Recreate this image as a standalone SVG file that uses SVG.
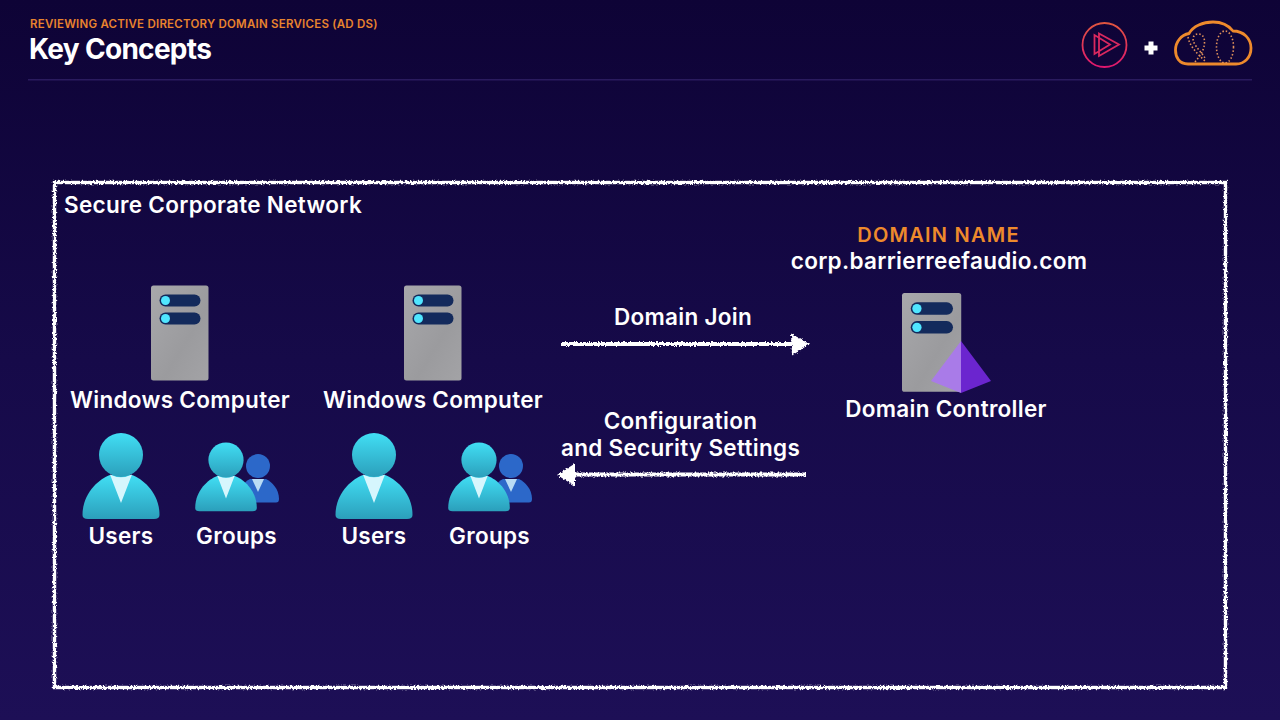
<svg xmlns="http://www.w3.org/2000/svg" xmlns:xlink="http://www.w3.org/1999/xlink" width="1280" height="720" viewBox="0 0 1280 720">
<defs>
<linearGradient id="bg" x1="0" y1="0" x2="0" y2="1"><stop offset="0" stop-color="#0e0336"/><stop offset="0.5" stop-color="#160a49"/><stop offset="1" stop-color="#1d0f56"/></linearGradient>
<linearGradient id="srv" x1="0" y1="0" x2="1" y2="1"><stop offset="0" stop-color="#a8a8ab"/><stop offset="0.6" stop-color="#9b9b9e"/><stop offset="1" stop-color="#a3a3a6"/></linearGradient>
<linearGradient id="usr" x1="0" y1="0" x2="0" y2="1"><stop offset="0" stop-color="#41def4"/><stop offset="1" stop-color="#2b9fbb"/></linearGradient>
<linearGradient id="ps" x1="0" y1="0" x2="0" y2="1"><stop offset="0" stop-color="#e0553f"/><stop offset="1" stop-color="#e0176f"/></linearGradient>
<filter id="rough" x="-5%" y="-5%" width="110%" height="110%"><feTurbulence type="fractalNoise" baseFrequency="0.55" numOctaves="2" seed="4"/><feDisplacementMap in="SourceGraphic" scale="4" xChannelSelector="R" yChannelSelector="G"/></filter>
<filter id="roughL" x="-5%" y="-300%" width="110%" height="700%"><feTurbulence type="fractalNoise" baseFrequency="0.6" numOctaves="2" seed="7"/><feDisplacementMap in="SourceGraphic" scale="4" xChannelSelector="R" yChannelSelector="G"/></filter>
<g id="server">
<rect x="0" y="0" width="57.500" height="95" rx="2.500" fill="url(#srv)"/>
<rect x="8.500" y="9" width="41" height="12" rx="6" fill="#132a5c"/>
<rect x="8.500" y="27" width="41" height="12" rx="6" fill="#132a5c"/>
<circle cx="14.500" cy="15" r="4.500" fill="#50e6ff"/>
<circle cx="14.500" cy="33" r="4.500" fill="#50e6ff"/>
</g>
<g id="person">
<path d="M-38.500 60 C-38.500 38 -22 24 -11 20 L11 20 C22 24 38.500 38 38.500 60 Q38.500 64 33 64 L-33 64 Q-38.500 64 -38.500 60Z" fill="url(#usr)"/>
<path d="M-11 19.500 Q0 25 11 19.500 L0 48Z" fill="#d6f6fd"/>
<circle cx="0" cy="0" r="22" fill="url(#usr)"/>
</g>
<g id="backperson">
<path d="M-21 22 C-20 12 -14 5 -8 2 L8 2 C14 5 21 12 21 22 Q21 25.500 18 25.500 L-18 25.500 Q-21 25.500 -21 22Z" fill="#2c68c9"/>
<path d="M-6 2 L6 2 L0 15Z" fill="#b9dcf5"/>
<circle cx="0" cy="-11" r="12" fill="#2c68c9"/>
</g>
<g id="groupicon">
<use xlink:href="#backperson" href="#backperson" x="32" y="17"/>
<g transform="scale(0.8)"><use xlink:href="#person" href="#person"/></g>
</g>
</defs>
<style>
text{font-family:Inter,"Liberation Sans",Arial,sans-serif;fill:#fff;font-weight:600}
.lbl{font-size:22.500px;text-anchor:middle;letter-spacing:0.3px}
.chalk{fill:none;stroke:#fff}
</style>
<rect width="1280" height="720" fill="url(#bg)"/>
<g id="header">
<text x="30" y="28" style="font-size:11.500px;fill:#e8832e;letter-spacing:0.23px">REVIEWING ACTIVE DIRECTORY DOMAIN SERVICES (AD DS)</text>
<text x="29" y="59" style="font-size:28px;font-weight:700;letter-spacing:-0.7px">Key Concepts</text>
<rect x="28" y="79" width="1224" height="1.500" fill="#2a1b5e"/>
</g>
<g id="logos">
<circle cx="1104.500" cy="45" r="22" fill="none" stroke="url(#ps)" stroke-width="1.800"/>
<path d="M1094.500 35 L1094.500 54 L1110 44.500Z M1099 33.500 L1099 56 L1119 44.500Z" fill="none" stroke="#d9285f" stroke-width="1.800"/>
<path d="M1151 41.500 V54.500 M1144.500 48 H1157.500" stroke="#fff" stroke-width="5" fill="none"/>
<path d="M1188 64 C1179 64 1175.500 57 1175.500 50 C1175.500 42 1181 35 1189 33.500 C1193 26 1203 22 1213 22 C1222 22 1229 26 1233 31 C1244 31 1251 39 1251 48 C1251 57 1245 64 1236 64 Z" fill="none" stroke="#ee8a2c" stroke-width="2.800" stroke-linejoin="round"/>
<path d="M1188 37 C1190 48 1200 56 1206 62 M1195 62 C1202 54 1206 46 1204 38 C1202 33 1196 33 1194 36 C1190 42 1200 50 1205 58" fill="none" stroke="#e0915a" stroke-width="1.600" stroke-dasharray="1.500 2"/>
<ellipse cx="1225" cy="47" rx="8.500" ry="16" fill="none" stroke="#e0915a" stroke-width="1.600" stroke-dasharray="1.500 2"/>
</g>
<g id="network">
<rect x="54.500" y="182.500" width="1171" height="505" class="chalk" stroke-width="3.400" filter="url(#rough)"/>
<text x="64" y="213" style="font-size:22.500px;letter-spacing:0.3px">Secure Corporate Network</text>
</g>
<g id="computer1"><use xlink:href="#server" href="#server" x="151" y="285.500"/><text x="180" y="408" class="lbl">Windows Computer</text></g>
<g id="computer2"><use xlink:href="#server" href="#server" x="404" y="285.500"/><text x="433" y="408" class="lbl">Windows Computer</text></g>
<g id="users1"><use xlink:href="#person" href="#person" x="121" y="455"/><text x="121" y="544" class="lbl">Users</text></g>
<g id="groups1"><use xlink:href="#groupicon" href="#groupicon" x="226" y="460"/><text x="236.500" y="544" class="lbl">Groups</text></g>
<g id="users2"><use xlink:href="#person" href="#person" x="374" y="455"/><text x="374" y="544" class="lbl">Users</text></g>
<g id="groups2"><use xlink:href="#groupicon" href="#groupicon" x="479" y="460"/><text x="489.500" y="544" class="lbl">Groups</text></g>
<g id="domain-controller">
<text x="938.500" y="242" class="lbl" style="fill:#ee8a2c;font-size:20px;letter-spacing:1.250px">DOMAIN NAME</text>
<text x="939" y="269" class="lbl">corp.barrierreefaudio.com</text>
<use xlink:href="#server" href="#server" transform="translate(902 293) scale(1.030 1.040)"/>
<path d="M961 341 L931 381 L961 393Z" fill="#a97be8"/>
<path d="M961 341 L991 381 L961 393Z" fill="#6b25cf"/>
<text x="946" y="417" class="lbl">Domain Controller</text>
</g>
<g id="connectors">
<g filter="url(#roughL)">
<path d="M561 344 H796" class="chalk" stroke-width="3.800"/>
<path d="M791 333.500 L809.500 344 L792 355.500Z" fill="#fff"/>
<path d="M806 474.500 H570" class="chalk" stroke-width="3.800"/>
<path d="M575 463.500 L557 475 L575 486Z" fill="#fff"/>
</g>
</g>
<g id="connector-labels">
<text x="683" y="325" class="lbl">Domain Join</text>
<text x="680.500" y="429" class="lbl">Configuration</text>
<text x="680.500" y="456" class="lbl">and Security Settings</text>
</g>
</svg>
